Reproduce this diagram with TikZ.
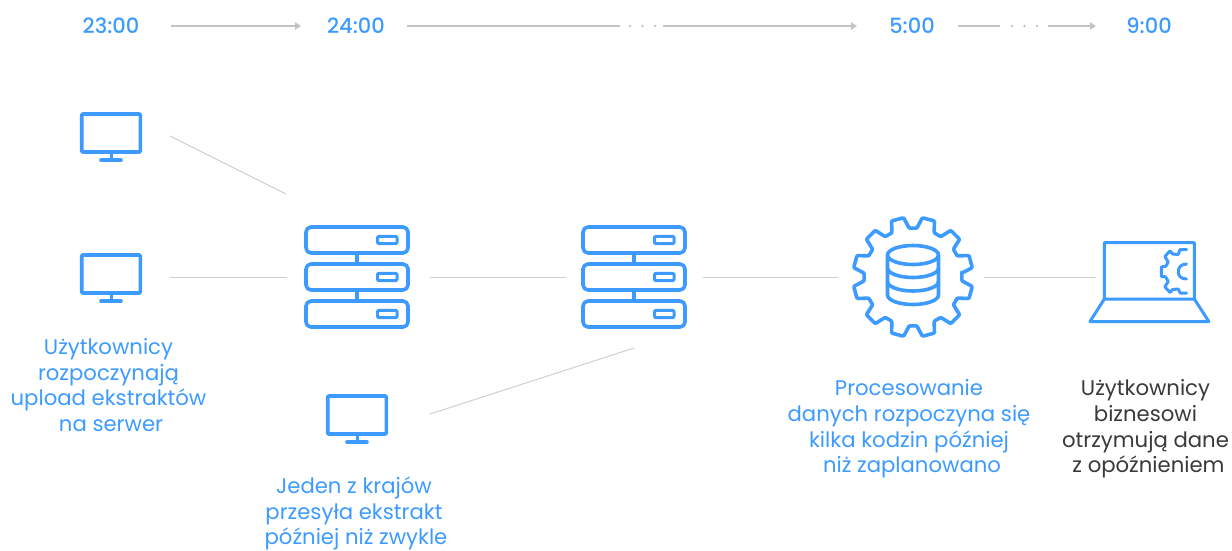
\documentclass[tikz,border=0pt]{standalone}
\usepackage{fontspec}
\setmainfont{Poppins}
\newfontfamily\timefont{Poppins Medium}
\usetikzlibrary{arrows.meta}
\definecolor{iconblue}{HTML}{3D9BFF}
\definecolor{linkgray}{HTML}{CFCFCF}
\definecolor{timegray}{HTML}{C4C4C4}
\definecolor{darktext}{HTML}{3A3A3A}
\tikzset{
  x=1pt,y=-1pt,
  icon/.style={draw=iconblue,line width=3.6pt,line join=round,line cap=round,fill=none},
  thinicon/.style={icon,line width=3pt},
  link/.style={draw=linkgray,line width=1pt},
  timeline/.style={draw=timegray,line width=2.4pt},
  timearrow/.style={timeline,-{Triangle[length=6pt,width=7.5pt,fill=timegray]}},
  timedot/.style={circle,fill=timegray,inner sep=0pt,minimum size=2.6pt},
  timelabel/.style={text=iconblue,font=\timefont\fontsize{21}{24}\selectfont,inner sep=0pt},
  caption/.style={text=iconblue,font=\fontsize{21.2}{25.6}\selectfont,align=center,inner sep=0pt},
  darkcaption/.style={caption,text=darktext},
  monitor/.pic={
    \draw[icon,rounded corners=1pt] (-29.3,-22.5) rectangle (29.3,15.5);
    \draw[icon,line width=3pt] (0,15.5) -- (0,23.7);
    \draw[icon] (-10,23.7) -- (10,23.7);
  },
  serverunit/.pic={
    \draw[icon,rounded corners=5pt] (-51,-13) rectangle (51,13);
    \draw[thinicon,rounded corners=1pt] (20.5,-3.6) rectangle (40,3.6);
  },
  server/.pic={
    \pic at (0,-37) {serverunit};
    \pic at (0,0) {serverunit};
    \pic at (0,37) {serverunit};
    \draw[icon,line cap=butt] (0,-24) -- (0,-13);
    \draw[icon,line cap=butt] (0,13) -- (0,24);
  },
}
\begin{document}
\begin{tikzpicture}
\useasboundingbox (0,0) rectangle (1232,550);
\fill[white] (0,0) rectangle (1232,550);

% time labels
\node[timelabel] (t1) at (111,26) {23:00};
\node[timelabel] (t2) at (356,26) {24:00};
\node[timelabel] (t3) at (912,26) {5:00};
\node[timelabel] (t4) at (1149,26) {9:00};

% timeline anchors
\coordinate (a1s) at (171,26);
\coordinate (a1e) at (301,26);
\coordinate (a2s) at (407,26);
\coordinate (a2m) at (620,26);
\coordinate (a3s) at (663,26);
\coordinate (a3e) at (857,26);
\coordinate (a4s) at (958,26);
\coordinate (a4m) at (1000,26);
\coordinate (a5s) at (1048,26);
\coordinate (a5e) at (1096,26);
\draw[timearrow] (a1s) -- (a1e);
\draw[timeline] (a2s) -- (a2m);
\draw[timearrow] (a3s) -- (a3e);
\draw[timeline] (a4s) -- (a4m);
\draw[timearrow] (a5s) -- (a5e);
\node[timedot] (d1) at (630,26) {};
\node[timedot] (d2) at (642.5,26) {};
\node[timedot] (d3) at (655,26) {};
\node[timedot] (d4) at (1012,26) {};
\node[timedot] (d5) at (1024.5,26) {};
\node[timedot] (d6) at (1037,26) {};

% icons
\pic at (111,136.5) {monitor};
\pic at (111,277.5) {monitor};
\pic at (357,418.5) {monitor};
\pic at (357,277) {server};
\pic at (634,277) {server};

% database gear
\begin{scope}[shift={(913,277)},y=1pt]
  \draw[icon,rounded corners=1pt]
    (4.5:49)
    \foreach \c in {15,45,...,345} {
      -- ({\c-10.5}:49) -- ({\c-6}:60) -- ({\c+6}:60) -- ({\c+10.5}:49)
    } -- cycle;
\end{scope}
\draw[icon] (887.5,255) arc[start angle=180,end angle=-180,x radius=25.5,y radius=9.5];
\draw[icon] (887.5,255) -- (887.5,295) arc[start angle=180,end angle=360,x radius=25.5,y radius=-9.5] -- (938.5,255);
\draw[icon] (887.5,268) arc[start angle=180,end angle=360,x radius=25.5,y radius=-9.5];
\draw[icon] (887.5,281.5) arc[start angle=180,end angle=360,x radius=25.5,y radius=-9.5];

% laptop
\draw[thinicon,rounded corners=0.5pt] (1104.3,242.7) rectangle (1194.3,299);
\draw[thinicon] (1104.3,299) -- (1090,321.5) -- (1208.8,321.5) -- (1194.3,299);
\draw[thinicon,rounded corners=0.6pt]
  (1186.5,249.5) -- (1180,249.5) -- (1178.3,254.5) -- (1172.5,254) -- (1170,250.8)
  -- (1164.8,256.5) -- (1168.3,262) -- (1165.5,266.5) -- (1161.3,266.8)
  -- (1161.3,276.5) -- (1165.5,276.8) -- (1168.3,281.5) -- (1164.8,286.8)
  -- (1170,292.5) -- (1172.5,289.5) -- (1178.3,289) -- (1180,293) -- (1186.5,293);
\draw[thinicon] (1186.5,264) .. controls (1180.5,264) and (1178.3,268) .. (1178.3,271.7) .. controls (1178.3,275.5) and (1180.5,279) .. (1186.5,279);

% connectors
\coordinate (l1s) at (170,136);
\coordinate (l1e) at (286,194);
\coordinate (l2s) at (170,277);
\coordinate (l2e) at (287,277);
\coordinate (l3s) at (430,277);
\coordinate (l3e) at (566,277);
\coordinate (l4s) at (703,277);
\coordinate (l4e) at (838,277);
\coordinate (l5s) at (984,277);
\coordinate (l5e) at (1096,277);
\coordinate (l6s) at (430,414);
\coordinate (l6e) at (634,348);
\draw[link] (l1s) -- (l1e);
\draw[link] (l2s) -- (l2e);
\draw[link] (l3s) -- (l3e);
\draw[link] (l4s) -- (l4e);
\draw[link] (l5s) -- (l5e);
\draw[link] (l6s) -- (l6e);

% captions
\node[caption] (c1) at (108.5,385) {Użytkownicy\\rozpoczynają\\upload ekstraktów\\\hspace*{5pt}na serwer};
\node[caption] (c2) at (354,513.5) {Jeden z krajów\\przesyła ekstrakt\\\hspace*{4pt}później niż zwykle};
\node[caption] (c3) at (909,429) {Procesowanie\\danych rozpoczyna się\\kilka kodzin później\\\hspace*{6pt}niż zaplanowano};
\node[darkcaption] (c4) at (1145.5,429) {Użytkownicy\\biznesowi\\otrzymują dane\\\hspace*{6pt}z opóźnieniem};
\end{tikzpicture}
\end{document}
